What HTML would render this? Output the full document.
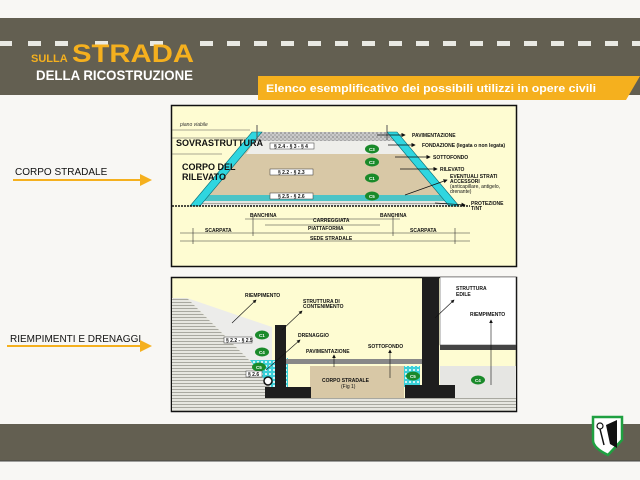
<!DOCTYPE html>
<html><head><meta charset="utf-8"><style>
html,body{margin:0;padding:0;width:640px;height:480px;overflow:hidden;background:#f8f7f4;}
svg{display:block;font-family:"Liberation Sans",Arial,sans-serif;}
</style></head><body>
<svg width="640" height="480" viewBox="0 0 640 480">
<defs>
<pattern id="hatch" width="4" height="3" patternUnits="userSpaceOnUse"><rect width="4" height="3" fill="#e6e6e0"/><rect y="2" width="4" height="1" fill="#a8a8a0"/></pattern>
<pattern id="grav" width="4" height="4" patternUnits="userSpaceOnUse"><rect width="4" height="4" fill="#c9c9c9"/><circle cx="1" cy="1" r="0.8" fill="#777"/><circle cx="3" cy="3" r="0.8" fill="#999"/></pattern>
<pattern id="cyd" width="4" height="4" patternUnits="userSpaceOnUse"><rect width="4" height="4" fill="#3ad0d8"/><circle cx="2" cy="2" r="1" fill="#fff"/></pattern>
<marker id="ah" markerWidth="6" markerHeight="6" refX="5" refY="3" orient="auto"><path d="M0,0 L6,3 L0,6z" fill="#111"/></marker>
<marker id="oa" markerWidth="6" markerHeight="6" refX="5" refY="3" orient="auto"><path d="M0,0 L6,3 L0,6z" fill="#f5b01e"/></marker>
</defs>
<!-- top band -->
<rect x="0" y="18" width="640" height="77" fill="#635f51"/>
<g fill="#e9e9e3">
<rect x="0" y="41" width="12" height="5"/>
<g id="d"><rect x="28" y="41" width="13" height="5"/></g>
</g>
<g fill="#e9e9e3">
<rect x="28" y="41" width="13" height="5"/><rect x="55" y="41" width="13" height="5"/>
<rect x="95" y="41" width="13" height="5"/><rect x="150" y="41" width="13" height="5"/>
<rect x="200" y="41" width="13" height="5"/><rect x="227" y="41" width="13" height="5"/>
<rect x="254" y="41" width="13" height="5"/><rect x="281" y="41" width="13" height="5"/>
<rect x="308" y="41" width="13" height="5"/><rect x="335" y="41" width="13" height="5"/>
<rect x="362" y="41" width="13" height="5"/><rect x="389" y="41" width="13" height="5"/>
<rect x="416" y="41" width="13" height="5"/><rect x="443" y="41" width="13" height="5"/>
<rect x="470" y="41" width="13" height="5"/><rect x="497" y="41" width="13" height="5"/>
<rect x="524" y="41" width="13" height="5"/><rect x="551" y="41" width="13" height="5"/>
<rect x="578" y="41" width="13" height="5"/><rect x="605" y="41" width="13" height="5"/>
<rect x="632" y="41" width="8" height="5"/>
</g>
<text x="31" y="62" font-size="11" font-weight="bold" fill="#f5b01e">SULLA</text>
<text x="72" y="62" font-size="25" font-weight="bold" fill="#f5b01e" textLength="122" lengthAdjust="spacingAndGlyphs">STRADA</text>
<text x="36" y="80" font-size="14" font-weight="bold" fill="#fff" textLength="157" lengthAdjust="spacingAndGlyphs">DELLA RICOSTRUZIONE</text>
<polygon points="258,76 640,76 626,100 258,100" fill="#f5b01e"/>
<text x="266" y="92" font-size="11" font-weight="bold" fill="#fff" textLength="330" lengthAdjust="spacingAndGlyphs">Elenco esemplificativo dei possibili utilizzi in opere civili</text>

<!-- left labels -->
<text x="15" y="175" font-size="10" fill="#111">CORPO STRADALE</text>
<line x1="13" y1="180" x2="150" y2="180" stroke="#f5b01e" stroke-width="2" marker-end="url(#oa)"/>
<text x="10" y="342" font-size="10" fill="#111">RIEMPIMENTI E DRENAGGI</text>
<line x1="7" y1="346" x2="150" y2="346" stroke="#f5b01e" stroke-width="2" marker-end="url(#oa)"/>

<!-- top panel -->
<rect x="171.5" y="105.5" width="345" height="161" fill="#fefcd2" stroke="#111" stroke-width="1.5"/>
<text x="180" y="126" font-size="5" font-style="italic" fill="#333">piano viabile</text>
<g stroke="#555" stroke-width="0.6">
<line x1="172" y1="130" x2="250" y2="130"/><line x1="172" y1="154" x2="222" y2="154"/><line x1="172" y1="138" x2="250" y2="138"/>
</g>
<polygon points="252,132 397,132 457,206 192,206" fill="#d8c8a6"/>
<polygon points="262,132 387,132 395,141 255,141" fill="url(#grav)"/>
<polygon points="255,141 395,141 406,154 246,154" fill="#eeeeea"/>
<polygon points="208,195 440,195 445,201 203,201" fill="#4cc4c6"/>
<polygon points="203,201 445,201 450,206 198,206" fill="url(#hatch)"/>
<polygon points="252,132 262,132 200,206 190,206" fill="#2fd6e0" stroke="#0a6d76" stroke-width="0.6"/>
<polygon points="387,132 397,132 459,206 449,206" fill="#2fd6e0" stroke="#0a6d76" stroke-width="0.6"/>
<line x1="172" y1="206" x2="470" y2="206" stroke="#111" stroke-width="1.5" stroke-dasharray="2,1"/>
<line x1="257" y1="125" x2="257" y2="140" stroke="#555"/><line x1="387" y1="125" x2="387" y2="140" stroke="#555"/>
<g font-size="5" font-weight="bold" fill="#111">
<rect x="270" y="143" width="44" height="6" fill="#fff" stroke="#333" stroke-width="0.5"/><text x="274" y="148">§ 2.4 - § 3 - § 4</text>
<rect x="270" y="169" width="43" height="6" fill="#fff" stroke="#333" stroke-width="0.5"/><text x="278" y="174">§ 2.2 - § 2.3</text>
<rect x="270" y="193" width="43" height="6" fill="#fff" stroke="#333" stroke-width="0.5"/><text x="278" y="198">§ 2.5 - § 2.6</text>
</g>
<g fill="#1a8a2a"><ellipse cx="372" cy="149" rx="7" ry="4.5"/><ellipse cx="372" cy="162" rx="7" ry="4.5"/><ellipse cx="372" cy="178" rx="7" ry="4.5"/><ellipse cx="372" cy="196" rx="7" ry="4.5"/></g>
<g font-size="4.5" fill="#fff" font-weight="bold"><text x="369" y="151">C3</text><text x="369" y="164">C2</text><text x="369" y="180">C1</text><text x="369" y="198">C5</text></g>
<g font-size="10" font-weight="bold" fill="#111">
<text x="176" y="146" font-size="9">SOVRASTRUTTURA</text>
<text x="182" y="170" font-size="9">CORPO DEL</text><text x="182" y="180" font-size="9">RILEVATO</text>
</g>
<g stroke="#111" stroke-width="0.7" fill="none" marker-end="url(#ah)">
<line x1="377" y1="135" x2="405" y2="135"/><line x1="388" y1="145" x2="415" y2="145"/>
<line x1="395" y1="157" x2="430" y2="157"/><line x1="400" y1="169" x2="437" y2="169"/>
<line x1="405" y1="195" x2="447" y2="180"/><line x1="435" y1="203" x2="465" y2="205"/>
</g>
<g font-size="5" font-weight="bold" fill="#111">
<text x="412" y="137">PAVIMENTAZIONE</text><text x="422" y="147">FONDAZIONE (legata o non legata)</text>
<text x="433" y="159">SOTTOFONDO</text><text x="440" y="171">RILEVATO</text>
<text x="450" y="178">EVENTUALI STRATI</text><text x="450" y="183">ACCESSORI</text>
<text x="450" y="188" font-weight="normal">(anticapillare, antigelo,</text><text x="450" y="193" font-weight="normal">drenante)</text>
<text x="471" y="205">PROTEZIONE</text><text x="471" y="210">T/NT</text>
<text x="250" y="217">BANCHINA</text><text x="380" y="217">BANCHINA</text>
<text x="313" y="222">CARREGGIATA</text><text x="308" y="230">PIATTAFORMA</text>
<text x="205" y="232">SCARPATA</text><text x="410" y="232">SCARPATA</text><text x="310" y="240">SEDE STRADALE</text>
</g>
<g stroke="#333" stroke-width="0.6">
<line x1="245" y1="219" x2="400" y2="219"/><line x1="265" y1="225" x2="380" y2="225"/>
<line x1="180" y1="233" x2="470" y2="233"/><line x1="180" y1="241" x2="470" y2="241"/>
<line x1="253" y1="214" x2="253" y2="236"/><line x1="393" y1="214" x2="393" y2="236"/>
<line x1="193" y1="228" x2="193" y2="244"/><line x1="455" y1="228" x2="455" y2="244"/>
</g>

<!-- bottom panel -->
<rect x="171.5" y="277.5" width="345" height="134" fill="#fefcd2" stroke="#111" stroke-width="1.5"/>
<rect x="440" y="277" width="76" height="68" fill="#fff" stroke="#333" stroke-width="0.5"/>
<rect x="440" y="345" width="76" height="5" fill="#444"/>
<rect x="440" y="366" width="76" height="32" fill="#e6e6e3"/>
<rect x="172" y="398" width="344" height="13" fill="url(#hatch)"/>
<polygon points="187,298 272,327 272,383" fill="#ececea"/>
<polygon points="172,298 187,298 272,383 272,398 172,398" fill="url(#hatch)"/>
<polygon points="250,360 276,360 276,387 270,387" fill="url(#cyd)"/>
<rect x="276" y="358" width="12" height="29" fill="url(#cyd)"/>
<rect x="404" y="366" width="16" height="21" fill="url(#cyd)"/>
<rect x="286" y="359" width="145" height="5" fill="#888"/>
<rect x="310" y="366" width="94" height="32" fill="#d8c8a6"/>
<rect x="275" y="325" width="11" height="62" fill="#1e1e1e"/>
<rect x="265" y="387" width="46" height="11" fill="#1e1e1e"/>
<rect x="422" y="277" width="17" height="108" fill="#1e1e1e"/>
<rect x="405" y="385" width="50" height="13" fill="#1e1e1e"/>
<circle cx="268" cy="381" r="4" fill="#fff" stroke="#111" stroke-width="1.5"/>
<g fill="#1a8a2a"><ellipse cx="262" cy="335" rx="7" ry="4.5"/><ellipse cx="262" cy="352" rx="7" ry="4.5"/><ellipse cx="259" cy="367" rx="7" ry="4.5"/><ellipse cx="413" cy="376" rx="7" ry="4.5"/><ellipse cx="478" cy="380" rx="7" ry="4.5"/></g>
<g font-size="4.5" fill="#fff" font-weight="bold"><text x="259" y="337">C1</text><text x="259" y="354">C4</text><text x="256" y="369">C5</text><text x="410" y="378">C5</text><text x="475" y="382">C4</text></g>
<rect x="224" y="337" width="28" height="6" fill="#fff" stroke="#333" stroke-width="0.5"/>
<rect x="246" y="371" width="16" height="6" fill="#fff" stroke="#333" stroke-width="0.5"/>
<g font-size="5" font-weight="bold" fill="#111">
<text x="226" y="342">§ 2.2 - § 2.5</text><text x="248" y="376">§ 2.6</text>
<text x="245" y="297">RIEMPIMENTO</text><text x="303" y="303">STRUTTURA DI</text><text x="303" y="308">CONTENIMENTO</text>
<text x="298" y="337">DRENAGGIO</text><text x="306" y="353">PAVIMENTAZIONE</text><text x="368" y="348">SOTTOFONDO</text>
<text x="322" y="382">CORPO STRADALE</text><text x="341" y="388" font-weight="normal">(Fig 1)</text>
<text x="456" y="290">STRUTTURA</text><text x="456" y="296">EDILE</text><text x="470" y="316">RIEMPIMENTO</text>
</g>
<g stroke="#111" stroke-width="0.6" fill="none" marker-end="url(#ah)">
<line x1="232" y1="323" x2="256" y2="300"/><line x1="282" y1="330" x2="302" y2="311"/>
<line x1="266" y1="370" x2="300" y2="340"/><line x1="334" y1="367" x2="334" y2="355"/>
<line x1="390" y1="378" x2="390" y2="350"/><line x1="435" y1="318" x2="454" y2="300"/>
<line x1="491" y1="385" x2="491" y2="320"/>
</g>

<!-- bottom band -->
<rect x="0" y="424" width="640" height="37" fill="#635f51"/>
<line x1="0" y1="461" x2="640" y2="461" stroke="#444" stroke-width="1"/>
<path d="M593,417 L622,417 L622,440 Q608,455 608,455 Q593,448 593,440Z" fill="#fff" stroke="#1fa040" stroke-width="2.5"/>
<path d="M606,425 L617,420 L617,448 L610,444Z" fill="#111"/>
<circle cx="600" cy="426" r="3" fill="none" stroke="#111" stroke-width="1.2"/>
<path d="M600,429 L604,445" stroke="#111" stroke-width="1.5"/>
</svg>
</body></html>
